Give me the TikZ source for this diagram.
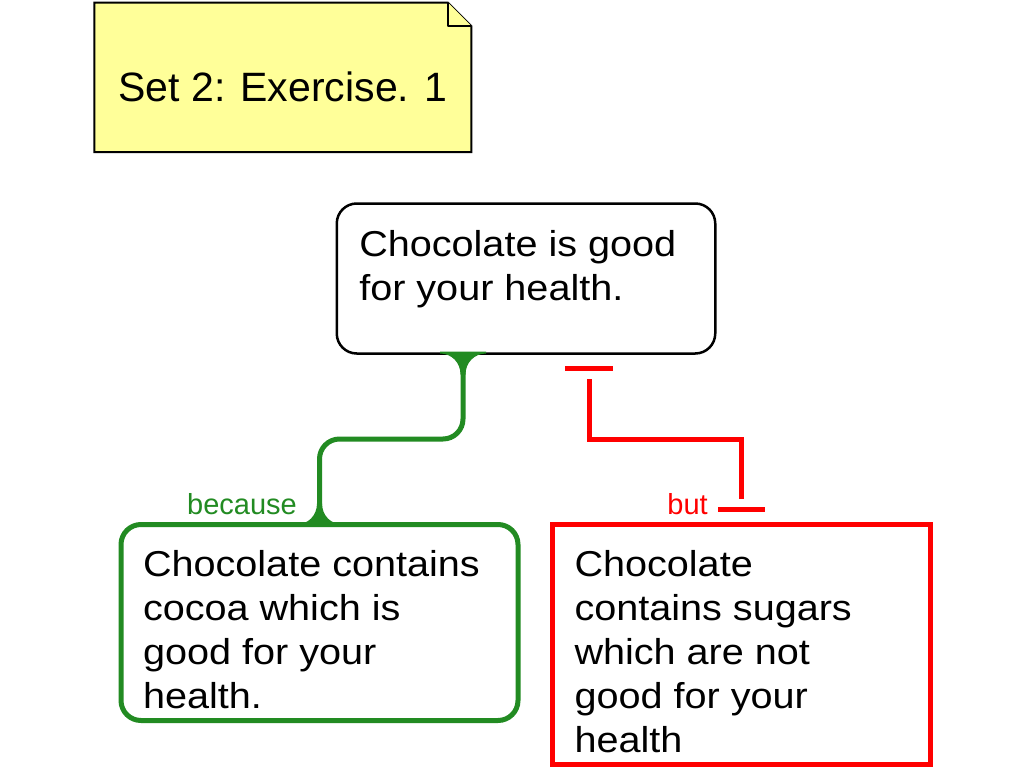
\documentclass[tikz,border=0pt]{standalone}
\usepackage{fontspec}
\setmainfont{Liberation Sans}
\newfontfamily\boxfont[FakeStretch=1.1]{Liberation Sans}
\usetikzlibrary{backgrounds}
\definecolor{notey}{HTML}{FFFF99}
\definecolor{progreen}{HTML}{228B22}
\definecolor{conred}{HTML}{FF0000}
\newcommand{\boxtext}[3]{\parbox[c][#2pt][t]{#1pt}{\raggedright #3}}
\tikzset{
  textbox/.style={inner xsep=22pt, inner ysep=26pt, outer sep=0pt, font=\boxfont\fontsize{36}{44}\selectfont},
  claimbox/.style={textbox, draw=black, line width=2.5pt, rounded corners=20pt, inner ysep=27pt, inner xsep=22.5pt},
  probox/.style={textbox, draw=progreen, line width=5pt, rounded corners=20pt},
  conbox/.style={textbox, draw=conred, line width=5pt},
  notebox/.style={minimum width=377pt, text height=98.5pt, text depth=51pt, inner sep=0pt, outer sep=0pt, font=\fontsize{41}{48}\selectfont},
  proline/.style={draw=progreen, line width=5pt, rounded corners=20pt},
  conline/.style={draw=conred, line width=5pt},
  linklabel/.style={font=\fontsize{29}{34}\selectfont, anchor=base east, inner sep=0pt},
  flare/.pic={\fill (-23,-2) -- (23,-2) -- (23,0) .. controls (11.5,0) and (2.5,9) .. (2.5,21) -- (-2.5,21) .. controls (-2.5,9) and (-11.5,0) .. (-23,0) -- cycle;}
}
\begin{document}
\begin{tikzpicture}[x=1pt, y=-1pt]
\useasboundingbox (0,0) rectangle (1024,768);
% sticky note
\node[notebox] (note) at (282.8,77.3) {Set 2: Exercise. 1};
\begin{scope}[on background layer]
  \fill[white] (0,0) rectangle (1024,768);
  \filldraw[fill=notey, draw=black, line width=2pt] (note.south west) -- (note.north west) -- ([xshift=-23.5pt]note.north east) -- ([yshift=-23.5pt]note.north east) -- (note.south east) -- cycle;
  \filldraw[fill=notey, draw=black, line width=2pt, line join=round] ([xshift=-23.5pt]note.north east) -- ([xshift=-23.5pt, yshift=-23.5pt]note.north east) -- ([yshift=-23.5pt]note.north east);
\end{scope}
% claim and the two premises
\node[claimbox] (claim) at (526,278.5) {\boxtext{333.5}{96}{Chocolate is good\\for your health.}};
\node[probox] (reason) at (319.5,622.5) {\boxtext{353}{144}{Chocolate contains\\cocoa which is\\good for your\\health.}};
\node[conbox] (objection) at (741.5,644.5) {\boxtext{334}{188}{Chocolate\\contains sugars\\which are not\\good for your\\health}};
% supporting link
\coordinate (g1) at ([xshift=-63pt]claim.south);
\draw[proline] (g1) -- ++(0,85.5) -| (reason.north);
\pic[progreen] at (g1) {flare};
\pic[progreen, yscale=-1] at (reason.north) {flare};
\node[linklabel, progreen] (becauselabel) at ([xshift=-22.5pt, yshift=10pt]reason.north) {because};
% opposing link
\coordinate (r1) at ([xshift=63pt, yshift=-25.5pt]claim.south);
\coordinate (r2) at ([yshift=26pt]objection.north);
\draw[conline] (r1) -- ++(0,60) -| (r2);
\draw[conline] ([yshift=11pt]r1) ++(-24,0) -- ++(48,0);
\draw[conline] ([yshift=-10.5pt]r2) ++(-23.5,0) -- ++(47,0);
\node[linklabel, conred] (butlabel) at ([xshift=-33.5pt, yshift=10pt]objection.north) {but};
\end{tikzpicture}
\end{document}
